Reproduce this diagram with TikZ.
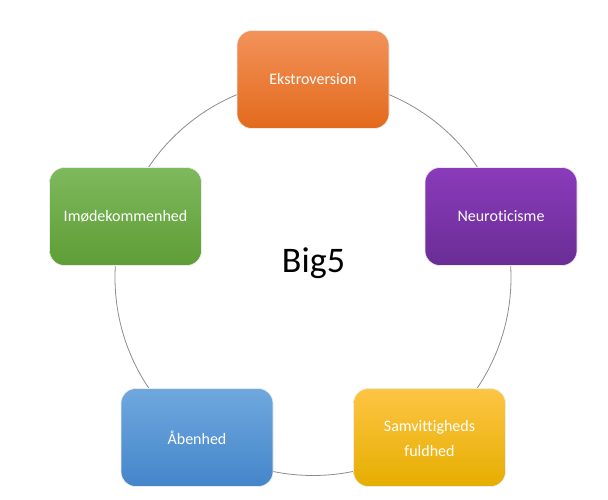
\documentclass[tikz,border=0pt]{standalone}
\usepackage{fontspec}
\setmainfont{Carlito}[Ligatures={NoCommon}]
\definecolor{orT}{HTML}{F2925A}
\definecolor{orB}{HTML}{E36A1C}
\definecolor{puT}{HTML}{8A3BBA}
\definecolor{puB}{HTML}{6A2D96}
\definecolor{yeT}{HTML}{FDC544}
\definecolor{yeB}{HTML}{E6AE00}
\definecolor{blT}{HTML}{6FA8DE}
\definecolor{blB}{HTML}{4485CA}
\definecolor{grT}{HTML}{7EB95C}
\definecolor{grB}{HTML}{5E9D36}
\definecolor{ring}{HTML}{8C8C8C}
\tikzset{
  bigbox/.style={rounded corners=15pt, minimum width=152pt, minimum height=98pt,
    inner sep=0pt, text=white, font=\fontsize{16}{25}\selectfont, align=center,
    draw=white!85!gray, line width=0.6pt},
  ringline/.style={draw=ring, line width=0.8pt}
}
\begin{document}
\begin{tikzpicture}[x=1pt,y=-1pt]
\useasboundingbox (0,0) rectangle (608,500);
\coordinate (c) at (313,277.5);
\draw[ringline] (c) circle (198pt);
\node[bigbox, top color=orT, bottom color=orB] (ekstro) at (313,79.5) {Ekstroversion};
\node[bigbox, top color=puT, bottom color=puB] (neuro) at (501,216.5) {Neuroticisme};
\node[bigbox, top color=yeT, bottom color=yeB] (samv) at (429.5,437.5) {\rule{0pt}{14pt}Samvittigheds\\fuldhed};
\node[bigbox, top color=blT, bottom color=blB] (aaben) at (197,437.5) {Åbenhed};
\node[bigbox, top color=grT, bottom color=grB] (imod) at (125.5,216.5) {Imødekommenhed};
\node[anchor=base, font=\fontsize{36}{40}\selectfont, inner sep=0pt] (big) at (313.5,272) {Big5};
\end{tikzpicture}
\end{document}
